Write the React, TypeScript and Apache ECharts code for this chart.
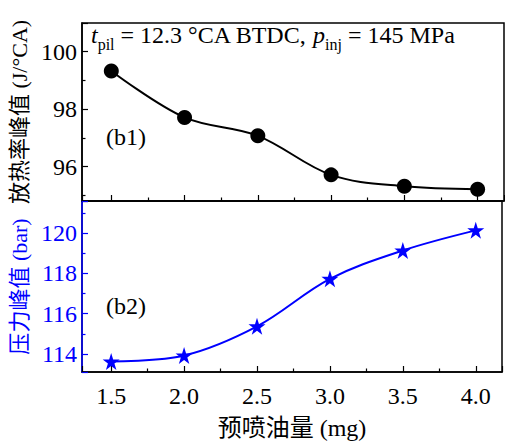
import React, { useEffect, useRef } from "react";
import * as echarts from "echarts";

const fuelMass = [1.5, 2.0, 2.5, 3.0, 3.5, 4.0];
const heatReleasePeak = [99.33, 97.71, 97.07, 95.71, 95.31, 95.21];
const pressurePeak = [113.62, 113.92, 115.37, 117.73, 119.14, 120.14];

const xTitle = "预喷油量 (mg)";
const yTitleTop = "放热率峰值 (J/°CA)";
const yTitleBottom = "压力峰值 (bar)";

const FONT = "'Liberation Serif', 'Times New Roman', 'Noto Sans CJK SC', serif";
const BLUE = "#0000ff";
const STAR =
  "path://M50,0 L61.2,34.5 L97.6,34.5 L68.2,55.9 L79.4,90.5 L50,69.1 L20.6,90.5 L31.8,55.9 L2.4,34.5 L38.8,34.5 Z";

export default function App() {
  const ref = useRef<HTMLDivElement>(null);
  useEffect(() => {
    if (!ref.current) return;
    const chart = echarts.init(ref.current, undefined, { renderer: "svg" });
    const xLabelFmt = (v: number) =>
      Math.abs(v * 2 - Math.round(v * 2)) < 1e-6 ? v.toFixed(1) : "";
    const yLabelFmt = (v: number) =>
      Math.abs(v / 2 - Math.round(v / 2)) < 1e-6 ? String(v) : "";
    const xBase = (gridIndex: number, showLabel: boolean) => ({
      type: "value",
      gridIndex,
      min: 1.3,
      max: 4.18,
      minInterval: 0.5,
      maxInterval: 0.5,
      splitLine: { show: false },
      axisLine: { show: true, lineStyle: { color: "#000", width: 1.5 } },
      axisTick: { show: true, inside: true, length: 6, lineStyle: { color: "#000", width: 1.2 } },
      minorTick: { show: true, splitNumber: 2, length: 3.5, lineStyle: { color: "#000", width: 1.2 } },
      axisLabel: {
        show: showLabel,
        formatter: xLabelFmt,
        color: "#000",
        fontFamily: FONT,
        fontSize: 24,
        margin: 12,
      },
    });
    const yBase = (gridIndex: number, min: number, max: number, color: string, name: string) => ({
      type: "value",
      gridIndex,
      min,
      max,
      minInterval: 2,
      maxInterval: 2,
      name,
      nameLocation: "middle",
      nameGap: 43,
      nameTextStyle: { color, fontFamily: FONT, fontSize: 22 },
      splitLine: { show: false },
      axisLine: { show: true, lineStyle: { color, width: 1.5 } },
      axisTick: { show: true, inside: true, length: 6, lineStyle: { color, width: 1.2 } },
      minorTick: { show: true, splitNumber: 2, length: 3.5, lineStyle: { color, width: 1.2 } },
      axisLabel: {
        formatter: yLabelFmt,
        color,
        fontFamily: FONT,
        fontSize: 24,
        margin: 5,
      },
    });
    chart.setOption({
      animation: false,
      backgroundColor: "#fff",
      grid: [
        { left: 82, top: 23, width: 422, height: 178, show: true, borderColor: "#000", borderWidth: 1.5 },
        { left: 82, top: 201, width: 422, height: 178, show: true, borderColor: "#000", borderWidth: 1.5 },
      ],
      xAxis: [
        xBase(0, false),
        {
          ...xBase(1, true),
          name: xTitle,
          nameLocation: "middle",
          nameGap: 44,
          nameTextStyle: { color: "#000", fontFamily: FONT, fontSize: 24 },
        },
      ],
      yAxis: [
        yBase(0, 94.8, 101, "#000", yTitleTop),
        yBase(1, 113.1, 121.6, BLUE, yTitleBottom),
      ],
      series: [
        {
          type: "line",
          xAxisIndex: 0,
          yAxisIndex: 0,
          smooth: 0.35,
          data: fuelMass.map((x, i) => [x, heatReleasePeak[i]]),
          symbol: "circle",
          symbolSize: 15,
          itemStyle: { color: "#000" },
          lineStyle: { color: "#000", width: 2 },
        },
        {
          type: "line",
          xAxisIndex: 1,
          yAxisIndex: 1,
          smooth: 0.35,
          data: fuelMass.map((x, i) => [x, pressurePeak[i]]),
          symbol: STAR,
          symbolSize: 17,
          itemStyle: { color: BLUE },
          lineStyle: { color: BLUE, width: 2 },
        },
      ],
      graphic: [
        {
          type: "text",
          left: 91,
          top: 23,
          style: {
            text: "{it|t}{sub|pil}{n| = 12.3 °CA BTDC, }{it|p}{sub|inj}{n| = 145 MPa}",
            rich: {
              n: { fontFamily: FONT, fontSize: 24, fill: "#000", lineHeight: 30, verticalAlign: "top" },
              it: { fontFamily: FONT, fontSize: 24, fontStyle: "italic", fill: "#000", lineHeight: 30, verticalAlign: "top" },
              sub: { fontFamily: FONT, fontSize: 16, fill: "#000", lineHeight: 30, verticalAlign: "bottom" },
            },
          },
        },
        {
          type: "text",
          left: 106,
          top: 125,
          style: { text: "(b1)", fontFamily: FONT, fontSize: 24, fill: "#000" },
        },
        {
          type: "text",
          left: 106,
          top: 294,
          style: { text: "(b2)", fontFamily: FONT, fontSize: 24, fill: "#000" },
        },
      ],
    });
    return () => chart.dispose();
  }, []);
  return <div ref={ref} style={{ width: 505, height: 441, position: "absolute", left: 0, top: 0 }} />;
}
